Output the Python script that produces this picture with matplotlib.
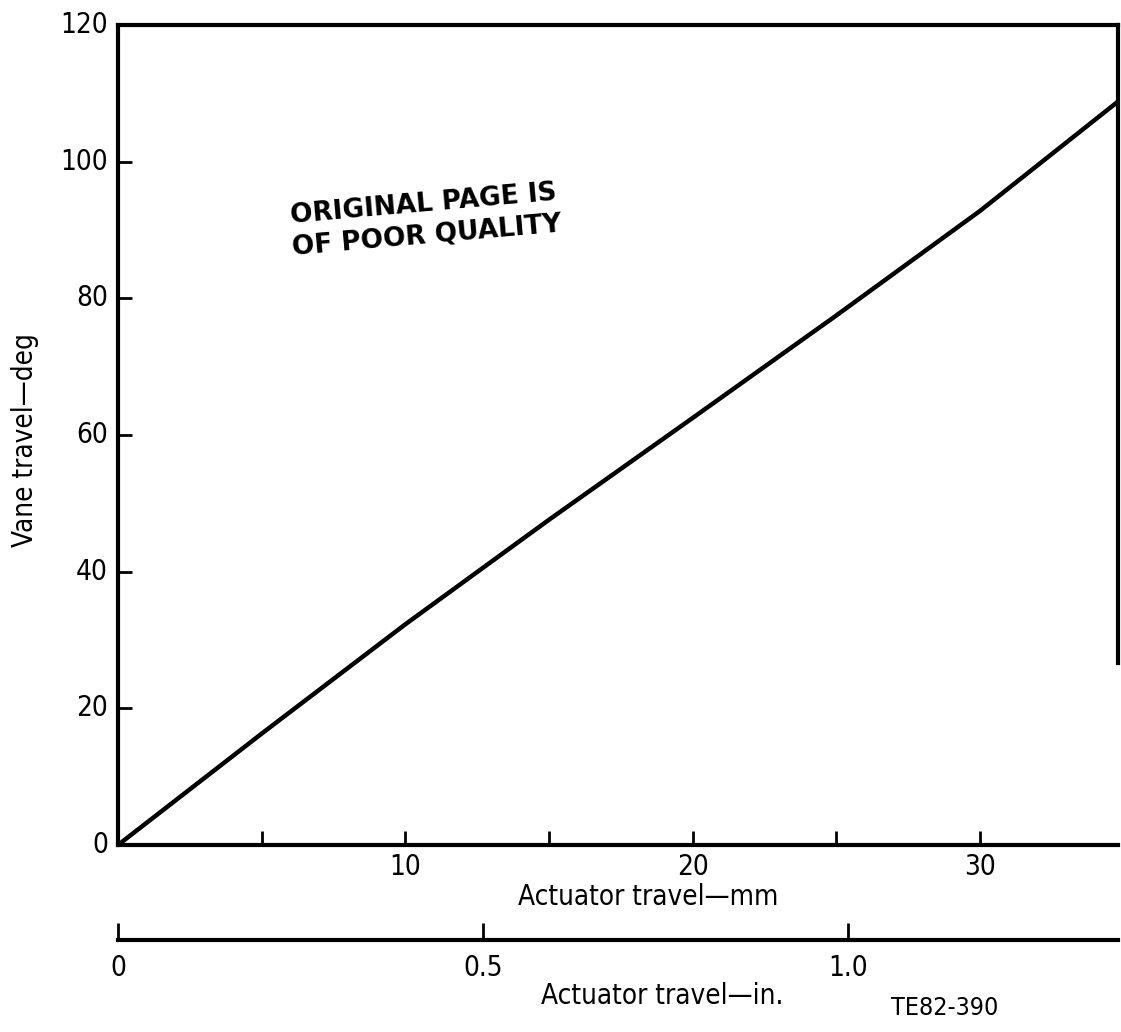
import matplotlib
matplotlib.use("Agg")
import matplotlib.pyplot as plt
from matplotlib.ticker import FixedLocator

# ---- data ----
actuator_mm = [0, 5, 10, 15, 20, 25, 30, 34.8]
vane_deg = [0, 16.3, 32.3, 47.6, 62.5, 77.5, 92.8, 108.8]
mm_ticks = [5, 10, 15, 20, 25, 30]
mm_labels = [10, 20, 30]
deg_ticks = [20, 40, 60, 80, 100]
deg_labels = [0, 20, 40, 60, 80, 100, 120]
in_ticks = [0, 0.5, 1.0]
in_labels = ["0", "0.5", "1.0"]
MM_PER_IN = 25.4

FONT = ["DejaVu Sans"]
plt.rcParams['font.family'] = FONT
plt.rcParams['font.stretch'] = 'condensed'

fig = plt.figure(figsize=(11.21, 10.32), dpi=100)
W, H = 1121, 1032

def fx(px):
    return px / W

def fy(py):
    return 1 - py / H

x0, x1 = 118, 1118
y0, y1 = 845, 25
ax = fig.add_axes([fx(x0), fy(y0), fx(x1) - fx(x0), fy(y1) - fy(y0)])
xmax = 34.8
ax.set_xlim(0, xmax)
ax.set_ylim(0, 120)

ax.plot(actuator_mm, vane_deg, color="black", lw=3.2, solid_capstyle="butt")

for s in ["left", "bottom", "top"]:
    ax.spines[s].set_linewidth(3.0)
ax.spines["right"].set_visible(False)
ax.plot([xmax, xmax], [26.6, 120], color="black", lw=3.0, clip_on=False)

ax.xaxis.set_major_locator(FixedLocator(mm_ticks))
ax.set_xticklabels([str(t) if t in mm_labels else "" for t in mm_ticks])
ax.yaxis.set_major_locator(FixedLocator(deg_ticks))
ax.set_yticklabels([])
ax.tick_params(axis="x", direction="in", length=10, width=2.0, pad=6, labelsize=20)
ax.tick_params(axis="y", direction="in", length=10, width=2.0, labelsize=20)
for v in deg_labels:
    ax.text(-0.01, v, str(v), transform=ax.get_yaxis_transform(), ha="right",
            va="center", fontsize=20)

fig.text(fx(648), fy(897), "Actuator travel\u2014mm", ha="center", va="center", fontsize=20)
fig.text(fx(25), fy(440), "Vane travel\u2014deg", ha="center", va="center", fontsize=20, rotation=90)

# inch axis
ax2 = fig.add_axes([fx(x0), fy(940), fx(x1) - fx(x0), 0.001])
ax2.set_xlim(0, xmax / MM_PER_IN)
ax2.set_ylim(0, 1)
for s in ["left", "right", "top"]:
    ax2.spines[s].set_visible(False)
ax2.spines["bottom"].set_linewidth(3.0)
ax2.set_yticks([])
ax2.xaxis.set_major_locator(FixedLocator(in_ticks))
ax2.set_xticklabels(in_labels)
ax2.tick_params(axis="x", direction="in", length=12, width=2.0, pad=10, labelsize=20)
ax2.patch.set_visible(False)

fig.text(fx(662), fy(996), "Actuator travel\u2014in.", ha="center", va="center", fontsize=20)
fig.text(fx(945), fy(1008), "TE82-390", ha="center", va="center", fontsize=18)

# stamp
ax.text(0.307, 0.762, "ORIGINAL PAGE IS\nOF POOR QUALITY", transform=ax.transAxes,
        ha="center", va="center", fontsize=19, fontweight="bold", rotation=5,
        linespacing=1.3, rotation_mode="anchor", fontstretch="normal")

fig.savefig("out.png", dpi=100)
